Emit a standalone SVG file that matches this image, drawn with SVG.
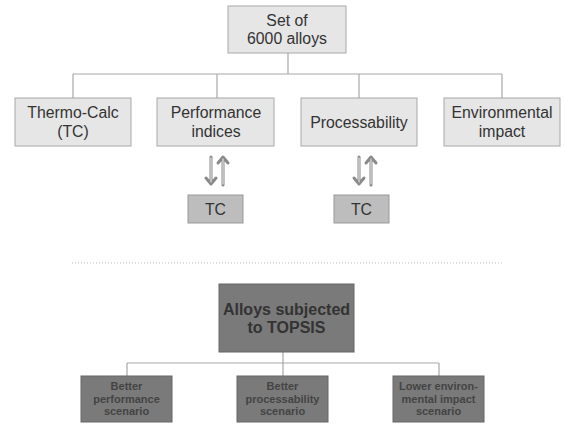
<svg xmlns="http://www.w3.org/2000/svg" width="565" height="424" viewBox="0 0 565 424">
<style>
.box1{fill:#e6e6e6;stroke:#a8a8a8;stroke-width:1}
.box2{fill:#bdbdbd;stroke:#999;stroke-width:1}
.box3{fill:#7a7a7a;stroke:#666;stroke-width:1}
.t1{font-family:"Liberation Sans",Arial,sans-serif;font-size:15.8px;fill:#333;text-anchor:middle}
.t3{font-family:"Liberation Sans",Arial,sans-serif;font-size:16px;font-weight:bold;fill:#333;text-anchor:middle}
.t4{font-family:"Liberation Sans",Arial,sans-serif;font-size:11px;font-weight:bold;fill:#444;text-anchor:middle}
.ln{fill:none;stroke:#a8a8a8;stroke-width:1.2}
.arO{fill:none;stroke:#8a8a8a;stroke-width:3;stroke-linecap:round;stroke-linejoin:round}
.arI{fill:none;stroke:#f2f2f2;stroke-width:1;stroke-linecap:round;stroke-linejoin:round}
</style>
<rect width="565" height="424" fill="#fff"/>
<g id="connectors">
<path class="ln" d="M288 53V74M73 74H502M73 74V98M217 74V98M359 74V98M502 74V98"/>
<path class="ln" d="M283 352V363M127 363H439M127 363V376M283 363V376M439 363V376"/>
<line x1="72" y1="263" x2="502" y2="263" stroke="#bbb" stroke-width="1" stroke-dasharray="1,2"/>
<g id="arrows1">
<path class="arO" d="M211 157V183M206 178L211 184L216 178M223 185V158M218 163L223 157L228 163"/>
<path class="arI" d="M211 158V182M223 184V159"/>
</g>
<g id="arrows2">
<path class="arO" d="M359 157V183M354 178L359 184L364 178M371 185V158M366 163L371 157L376 163"/>
<path class="arI" d="M359 158V182M371 184V159"/>
</g>
</g>
<g id="root"><rect class="box1" x="228" y="6" width="118" height="47"/><text class="t1" x="287" y="26">Set of</text><text class="t1" x="287" y="44">6000 alloys</text></g>
<g id="thermocalc"><rect class="box1" x="15" y="98" width="116" height="48"/><text class="t1" x="73" y="118">Thermo-Calc</text><text class="t1" x="73" y="137">(TC)</text></g>
<g id="performance"><rect class="box1" x="157" y="98" width="117" height="48"/><text class="t1" x="216" y="118">Performance</text><text class="t1" x="216" y="137">indices</text></g>
<g id="processability"><rect class="box1" x="301" y="98" width="116" height="48"/><text class="t1" x="359" y="128">Processability</text></g>
<g id="environmental"><rect class="box1" x="444" y="98" width="116" height="48"/><text class="t1" x="502" y="118">Environmental</text><text class="t1" x="502" y="137">impact</text></g>
<g id="tc1"><rect class="box2" x="188" y="195" width="55" height="28"/><text class="t1" x="215.5" y="214.5">TC</text></g>
<g id="tc2"><rect class="box2" x="334" y="195" width="55" height="28"/><text class="t1" x="361.5" y="214.5">TC</text></g>
<g id="topsis"><rect class="box3" x="219" y="284" width="135" height="68"/><text class="t3" x="286.5" y="315">Alloys subjected</text><text class="t3" x="286.5" y="333">to TOPSIS</text></g>
<g id="perfscen"><rect class="box3" x="81" y="376" width="91" height="46"/><text class="t4" x="126.5" y="390">Better</text><text class="t4" x="126.5" y="402.5">performance</text><text class="t4" x="126.5" y="415">scenario</text></g>
<g id="procscen"><rect class="box3" x="237" y="376" width="91" height="46"/><text class="t4" x="282.5" y="390">Better</text><text class="t4" x="282.5" y="402.5">processability</text><text class="t4" x="282.5" y="415">scenario</text></g>
<g id="envscen"><rect class="box3" x="393" y="376" width="91" height="46"/><text class="t4" x="438.5" y="390">Lower environ-</text><text class="t4" x="438.5" y="402.5">mental impact</text><text class="t4" x="438.5" y="415">scenario</text></g>
</svg>
